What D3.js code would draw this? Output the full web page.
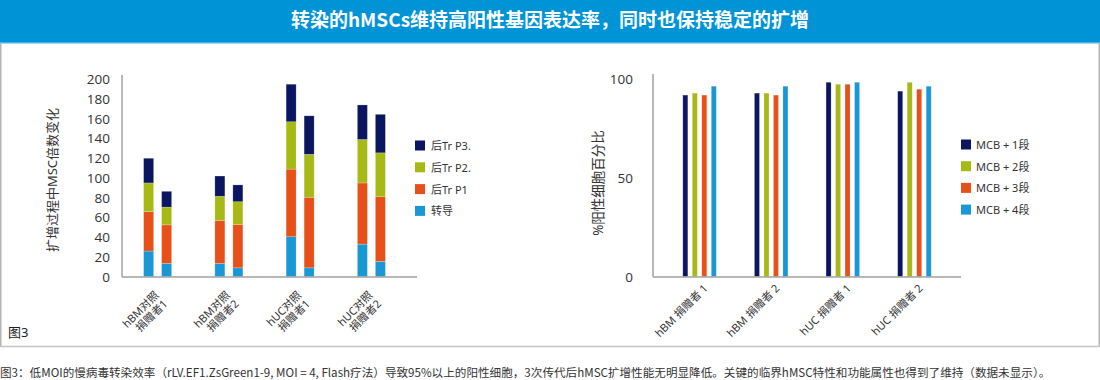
<!DOCTYPE html>
<html>
<head>
<meta charset="utf-8">
<script src="https://cdn.jsdelivr.net/npm/d3@7"></script>
<style>
  body { margin: 0; background: #fff; }
  svg text { font-family: "Noto Sans", "Noto Sans CJK SC", sans-serif; fill: #333; }
</style>
</head>
<body>
<svg id="chart" width="1100" height="380"></svg>
<script>
// ---- data ----
var titleText = "转染的hMSCs维持高阳性基因表达率，同时也保持稳定的扩增";
var captionText = "图3：低MOI的慢病毒转染效率（rLV.EF1.ZsGreen1-9, MOI = 4, Flash疗法）导致95%以上的阳性细胞，3次传代后hMSC扩增性能无明显降低。关键的临界hMSC特性和功能属性也得到了维持（数据未显示）。";

// left chart: 4 categories, 2 stacked bars each
var leftCategories = [["hBM对照", "捐赠者1"], ["hBM对照", "捐赠者2"], ["hUC对照", "捐赠者1"], ["hUC对照", "捐赠者2"]];
var leftSubBars = ["a", "b"];
var leftSeries = ["转导", "后Tr P1", "后Tr P2.", "后Tr P3."];
var transduction = [26, 13.5, 13.5, 9, 40.5, 9, 33, 15.5];
var postP1 = [40, 39, 43.5, 44, 68.5, 71.5, 62, 65.5];
var postP2 = [29, 18, 24.5, 23, 48, 43.5, 44, 44.5];
var postP3 = [25, 16, 20.5, 17, 38, 39, 35, 39];
var leftTicks = [0, 20, 40, 60, 80, 100, 120, 140, 160, 180, 200];

// right chart: 4 categories, 4 grouped bars each
var rightCategories = ["hBM 捐赠者 1", "hBM 捐赠者 2", "hUC 捐赠者 1", "hUC 捐赠者 2"];
var rightSeries = ["MCB + 1段", "MCB + 2段", "MCB + 3段", "MCB + 4段"];
var mcb1 = [92, 93, 98.5, 94];
var mcb2 = [93, 93, 97.5, 98.5];
var mcb3 = [92, 92, 97.5, 95];
var mcb4 = [96.5, 96.5, 98.5, 96.5];
var rightTicks = [0, 50, 100];

var colors = ["#1a98d6", "#e8501a", "#a6b915", "#0b1660"];
var rightColors = ["#0b1660", "#a6b915", "#e8501a", "#1a98d6"];

var svg = d3.select("#chart");

// ---- frame & title ----
svg.append("rect").attr("x", 0).attr("y", 0).attr("width", 1100).attr("height", 42).attr("fill", "#0094d7");
svg.append("rect").attr("x", 0).attr("y", 42).attr("width", 1100).attr("height", 1.5).attr("fill", "#45b3e8");
svg.append("text")
  .attr("x", 550).attr("y", 27)
  .attr("text-anchor", "middle")
  .style("font-family", "'Noto Sans CJK SC', sans-serif")
  .style("font-size", "19px").style("font-weight", "bold").style("fill", "#fff")
  .text(titleText);

svg.append("line").attr("x1", 0.75).attr("x2", 0.75).attr("y1", 43).attr("y2", 347).attr("stroke", "#b4b4b4").attr("stroke-width", 1.5);
svg.append("line").attr("x1", 1099.25).attr("x2", 1099.25).attr("y1", 43).attr("y2", 347).attr("stroke", "#b4b4b4").attr("stroke-width", 1.5);
svg.append("line").attr("x1", 0).attr("x2", 1100).attr("y1", 346.5).attr("y2", 346.5).attr("stroke", "#c4c4c4").attr("stroke-width", 1.5);

svg.append("text").attr("x", 8).attr("y", 337).style("font-size", "13px").style("fill", "#222").text("图3");

svg.append("text").attr("x", 0).attr("y", 377)
  .style("font-family", "'Noto Sans CJK SC', sans-serif")
  .style("font-size", "11.6px").style("fill", "#333")
  .text(captionText);

// ---- left chart ----
var yL = d3.scaleLinear().domain([0, 200]).range([276.7, 79.3]);
var xL = d3.scaleBand().domain(d3.range(leftCategories.length)).range([122, 407]).paddingInner(0).paddingOuter(0);
var xLsub = d3.scaleBand().domain(leftSubBars).range([-14, 14]).paddingInner(0.444);

var leftRows = [];
for (var i = 0; i < transduction.length; i++) {
  leftRows.push({ cat: Math.floor(i / 2), sub: leftSubBars[i % 2], s0: transduction[i], s1: postP1[i], s2: postP2[i], s3: postP3[i] });
}
var stacked = d3.stack().keys(["s0", "s1", "s2", "s3"])(leftRows);

var gL = svg.append("g");
gL.selectAll("g.layer").data(stacked).enter().append("g")
  .attr("class", "layer")
  .attr("fill", function(d, i) { return colors[i]; })
  .selectAll("rect").data(function(d) { return d; }).enter().append("rect")
  .attr("x", function(d) { return xL(d.data.cat) + xL.bandwidth() / 2 + xLsub(d.data.sub); })
  .attr("width", xLsub.bandwidth())
  .attr("y", function(d) { return yL(d[1]); })
  .attr("height", function(d) { return yL(d[0]) - yL(d[1]); })
  .attr("stroke", "#fff").attr("stroke-opacity", 0.35).attr("stroke-width", 0.6);

// y axis
var yAxisL = gL.append("g").attr("transform", "translate(122,0)")
  .call(d3.axisLeft(yL).tickValues(leftTicks).tickSize(0).tickPadding(12));
yAxisL.select(".domain").remove();
yAxisL.selectAll("text").style("font-size", "13.5px").style("fill", "#333").style("font-family", "'Open Sans', sans-serif");
gL.append("line").attr("x1", 122).attr("x2", 122).attr("y1", 75).attr("y2", 277).attr("stroke", "#a0a0a0").attr("stroke-width", 1.5);
gL.append("line").attr("x1", 122).attr("x2", 417).attr("y1", 277).attr("y2", 277).attr("stroke", "#a0a0a0").attr("stroke-width", 1.5);

// x labels
gL.selectAll("text.xl").data(leftCategories).enter().append("text")
  .attr("class", "xl")
  .attr("text-anchor", "end")
  .attr("transform", function(d, i) { return "translate(" + (xL(i) + xL.bandwidth() / 2 + 2) + ",296) rotate(-45)"; })
  .style("font-size", "11px")
  .each(function(d) {
    var t = d3.select(this);
    t.append("tspan").attr("x", 0).attr("dy", 0).text(d[0]);
    t.append("tspan").attr("x", 0).attr("dy", 12).text(d[1]);
  });

gL.append("text")
  .attr("transform", "translate(57,180) rotate(-90)")
  .attr("text-anchor", "middle")
  .style("font-size", "13px")
  .text("扩增过程中MSC倍数变化");

// legend
var legL = gL.selectAll("g.legL").data(leftSeries.slice().reverse()).enter().append("g")
  .attr("transform", function(d, i) { return "translate(415," + (140.5 + i * 21.8) + ")"; });
legL.append("rect").attr("width", 10).attr("height", 10)
  .attr("fill", function(d, i) { return colors[3 - i]; });
legL.append("text").attr("x", 16).attr("y", 9.5).style("font-size", "11px").text(function(d) { return d; });

// ---- right chart ----
var yR = d3.scaleLinear().domain([0, 100]).range([276.7, 79.3]);
var xR = d3.scaleBand().domain(rightCategories).range([653, 961]).paddingInner(0).paddingOuter(0.15);
var xRsub = d3.scaleBand().domain(rightSeries).range([-16.75, 16.75]).paddingInner(0.47);
var rightValues = [mcb1, mcb2, mcb3, mcb4];

var gR = svg.append("g");
var grp = gR.selectAll("g.grp").data(rightCategories).enter().append("g")
  .attr("transform", function(d) { return "translate(" + (xR(d) + xR.bandwidth() / 2) + ",0)"; });
grp.selectAll("rect").data(function(d, ci) {
    return rightSeries.map(function(s, si) { return { s: s, si: si, v: rightValues[si][ci] }; });
  }).enter().append("rect")
  .attr("x", function(d) { return xRsub(d.s); })
  .attr("width", xRsub.bandwidth())
  .attr("y", function(d) { return yR(d.v); })
  .attr("height", function(d) { return yR(0) - yR(d.v); })
  .attr("fill", function(d) { return rightColors[d.si]; })
  .attr("stroke", "#fff").attr("stroke-opacity", 0.35).attr("stroke-width", 0.6);

var yAxisR = gR.append("g").attr("transform", "translate(653,0)")
  .call(d3.axisLeft(yR).tickValues(rightTicks).tickSize(0).tickPadding(20));
yAxisR.select(".domain").remove();
yAxisR.selectAll("text").style("font-size", "13.5px").style("fill", "#333").style("font-family", "'Open Sans', sans-serif");
gR.append("line").attr("x1", 653).attr("x2", 653).attr("y1", 74).attr("y2", 277).attr("stroke", "#a0a0a0").attr("stroke-width", 1.5);
gR.append("line").attr("x1", 653).attr("x2", 961).attr("y1", 277).attr("y2", 277).attr("stroke", "#a0a0a0").attr("stroke-width", 1.5);

gR.selectAll("text.xr").data(rightCategories).enter().append("text")
  .attr("class", "xr")
  .attr("text-anchor", "end")
  .attr("transform", function(d) { return "translate(" + (xR(d) + xR.bandwidth() / 2 + 9) + ",289) rotate(-45)"; })
  .style("font-size", "11px")
  .text(function(d) { return d; });

gR.append("text")
  .attr("transform", "translate(603,183) rotate(-90)")
  .attr("text-anchor", "middle")
  .style("font-size", "13.5px")
  .text("%阳性细胞百分比");

var legR = gR.selectAll("g.legR").data(rightSeries).enter().append("g")
  .attr("transform", function(d, i) { return "translate(961," + (139.5 + i * 21.7) + ")"; });
legR.append("rect").attr("width", 10).attr("height", 10)
  .attr("fill", function(d, i) { return rightColors[i]; });
legR.append("text").attr("x", 15).attr("y", 9.5).style("font-size", "11px").text(function(d) { return d; });
</script>
</body>
</html>
